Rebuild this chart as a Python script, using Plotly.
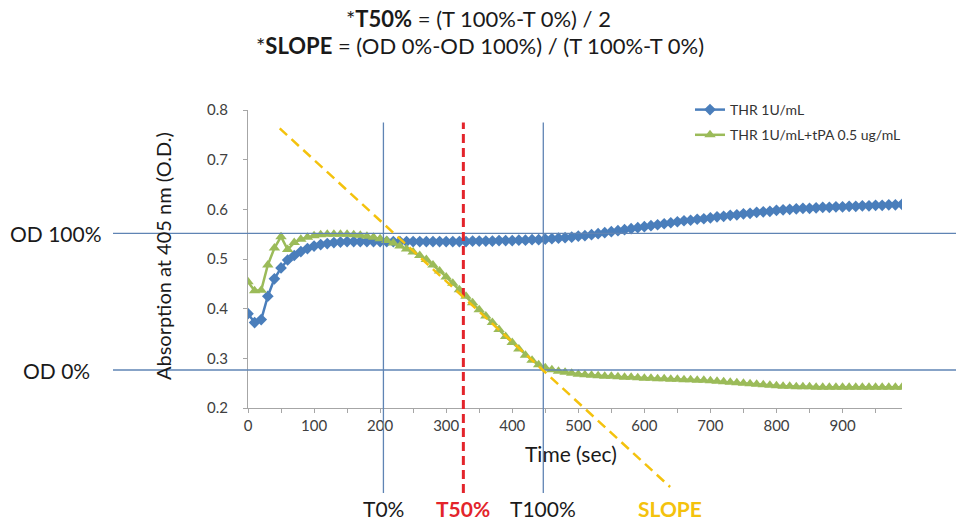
import plotly.graph_objects as go

# Sampling times (s) for the two absorbance traces
time_s = list(range(0, 1000, 10))

thr = [
    0.390, 0.372, 0.378, 0.425, 0.460, 0.482, 0.498, 0.507, 0.515, 0.521,
    0.526, 0.529, 0.531, 0.533, 0.534, 0.535, 0.535, 0.535, 0.535, 0.535,
    0.535, 0.535, 0.535, 0.535, 0.535, 0.535, 0.535, 0.535, 0.535, 0.535,
    0.535, 0.535, 0.535, 0.535, 0.536, 0.536, 0.536, 0.536, 0.537, 0.537,
    0.537, 0.538, 0.538, 0.539, 0.539, 0.540, 0.541, 0.542, 0.543, 0.544,
    0.546, 0.547, 0.549, 0.551, 0.553, 0.555, 0.557, 0.559, 0.561, 0.563,
    0.565, 0.567, 0.569, 0.571, 0.573, 0.575, 0.577, 0.578, 0.580, 0.581,
    0.583, 0.585, 0.586, 0.588, 0.589, 0.591, 0.592, 0.594, 0.595, 0.596,
    0.598, 0.599, 0.600, 0.601, 0.602, 0.602, 0.603, 0.604, 0.604, 0.605,
    0.605, 0.606, 0.606, 0.607, 0.607, 0.608, 0.608, 0.609, 0.609, 0.610,
]

thr_tpa = [
    0.454, 0.436, 0.437, 0.488, 0.522, 0.545, 0.519, 0.533, 0.540, 0.544,
    0.547, 0.549, 0.550, 0.550, 0.550, 0.550, 0.549, 0.548, 0.546, 0.544,
    0.541, 0.537, 0.532, 0.526, 0.520, 0.514, 0.507, 0.499, 0.488, 0.476,
    0.464, 0.451, 0.438, 0.425, 0.412, 0.398, 0.385, 0.372, 0.358, 0.344,
    0.332, 0.319, 0.306, 0.296, 0.287, 0.281, 0.277, 0.274, 0.272, 0.270,
    0.268, 0.267, 0.266, 0.265, 0.264, 0.264, 0.263, 0.262, 0.262, 0.261,
    0.260, 0.260, 0.259, 0.259, 0.258, 0.258, 0.257, 0.257, 0.256, 0.256,
    0.255, 0.254, 0.253, 0.252, 0.251, 0.250, 0.249, 0.248, 0.247, 0.246,
    0.245, 0.244, 0.244, 0.243, 0.243, 0.243, 0.242, 0.242, 0.242, 0.242,
    0.242, 0.242, 0.242, 0.242, 0.242, 0.242, 0.242, 0.242, 0.242, 0.242,
]

series_names = ["THR 1U/mL", "THR 1U/mL+tPA 0.5 ug/mL"]

# Reference markers of the analysis
T0, T100 = 205, 447
T50 = (T0 + T100) / 2
OD100, OD0 = 0.5515, 0.2765
SLOPE_START = (48, 0.763)
SLOPE_END = (639, 0.041)

x_tick_vals = list(range(0, 1000, 100))
y_tick_vals = [0.2, 0.3, 0.4, 0.5, 0.6, 0.7, 0.8]

X_RANGE = [0, 990]
Y_RANGE = [0.2, 0.8]

W, H = 956, 520
M_L, M_R, M_T, M_B = 248, 54, 110, 112
PLOT_W = W - M_L - M_R
PLOT_H = H - M_T - M_B

FONT = "Lato, 'Open Sans', sans-serif"
BLUE = "#4a7ebb"
GREEN = "#9bbb59"
REF_LINE = "#5f84b4"
RED = "#e3242b"
GOLD = "#f4c20d"
INK = "#1a1a1a"


def paper_x(t):
    return (t - X_RANGE[0]) / (X_RANGE[1] - X_RANGE[0])


def paper_y(v):
    return (v - Y_RANGE[0]) / (Y_RANGE[1] - Y_RANGE[0])


def paper_x_px(px):
    return (px - M_L) / PLOT_W


def paper_y_px(py):
    return (H - M_B - py) / PLOT_H


fig = go.Figure()
fig.add_trace(go.Scatter(
    x=time_s, y=thr, name=series_names[0], mode="lines+markers",
    line=dict(color=BLUE, width=2.5),
    marker=dict(symbol="diamond", size=9, color=BLUE),
    legendgroup="a",
))
fig.add_trace(go.Scatter(
    x=time_s, y=thr_tpa, name=series_names[1], mode="lines+markers",
    line=dict(color=GREEN, width=2.5),
    marker=dict(symbol="triangle-up", size=10, color=GREEN),
    legendgroup="b",
))

shapes = []
# Horizontal OD reference lines, running past the plot area
for od in (OD100, OD0):
    shapes.append(dict(type="line", xref="paper", yref="paper",
                       x0=paper_x_px(113), x1=paper_x_px(W),
                       y0=paper_y(od), y1=paper_y(od),
                       line=dict(color=REF_LINE, width=1.3)))
# Vertical time reference lines
line_top = paper_y(0.775)
line_bot = paper_y_px(493)
for t in (T0, T100):
    shapes.append(dict(type="line", xref="paper", yref="paper",
                       x0=paper_x(t), x1=paper_x(t), y0=line_bot, y1=line_top,
                       line=dict(color=REF_LINE, width=1.3)))
shapes.append(dict(type="line", xref="paper", yref="paper",
                   x0=paper_x(T50), x1=paper_x(T50), y0=line_bot, y1=line_top,
                   line=dict(color=RED, width=3, dash="9px,5px")))
# Slope line
shapes.append(dict(type="line", xref="paper", yref="paper",
                   x0=paper_x(SLOPE_START[0]), y0=paper_y(SLOPE_START[1]),
                   x1=paper_x(SLOPE_END[0]), y1=paper_y(SLOPE_END[1]),
                   line=dict(color=GOLD, width=2.5, dash="10px,6px")))


def label(text, x, y, size, color=INK, angle=0):
    return dict(text=text, x=x, y=y, xref="paper", yref="paper",
                xanchor="center", yanchor="middle", showarrow=False,
                textangle=angle, font=dict(family=FONT, size=size, color=color))


annotations = [
    label("*<b>T50%</b> = (T 100%-T 0%) / 2", paper_x_px(478), paper_y_px(18), 22),
    label("*<b>SLOPE</b> = (OD 0%-OD 100%) / (T 100%-T 0%)", paper_x_px(480), paper_y_px(45), 22),
]

label_y = paper_y_px(508)
bottom_labels = [
    ("T0%", T0, INK),
    ("<b>T50%</b>", T50, RED),
    ("T100%", T100, INK),
    ("<b>SLOPE</b>", SLOPE_END[0], GOLD),
]
for txt, t, col in bottom_labels:
    annotations.append(label(txt, paper_x(t), label_y, 21, col))

for txt, od in (("OD 100%", OD100), ("OD 0%", OD0)):
    annotations.append(label(txt, paper_x_px(56), paper_y(od), 21))

annotations.append(label("Absorption at 405 nm (O.D.)", paper_x_px(163), paper_y_px(256), 20, angle=-90))
annotations.append(label("Time (sec)", paper_x_px(571), paper_y_px(453), 21))

fig.update_layout(
    width=W, height=H,
    margin=dict(l=M_L, r=M_R, t=M_T, b=M_B),
    paper_bgcolor="white", plot_bgcolor="white",
    font=dict(family=FONT, color="#404040"),
    shapes=shapes,
    annotations=annotations,
    showlegend=True,
    legend=dict(x=paper_x_px(690), y=paper_y_px(94), xanchor="left", yanchor="top",
                font=dict(family=FONT, size=14, color="#333333"),
                bgcolor="rgba(0,0,0,0)", traceorder="grouped", tracegroupgap=4,
                itemwidth=30),
)
fig.update_xaxes(
    range=X_RANGE, tickvals=x_tick_vals, showgrid=False, zeroline=False,
    showline=True, linecolor="#a6a6a6", linewidth=1,
    ticks="outside", ticklen=4, tickcolor="#a6a6a6",
    minor=dict(ticks="outside", ticklen=4, tickcolor="#a6a6a6", dtick=50, showgrid=False),
    tickfont=dict(family=FONT, size=15, color="#404040"),
)
fig.update_yaxes(
    range=Y_RANGE, tickvals=y_tick_vals, tickformat=".1f", showgrid=False, zeroline=False,
    showline=True, linecolor="#a6a6a6", linewidth=1,
    ticks="outside", ticklen=4, tickcolor="#a6a6a6", ticklabelstandoff=12,
    tickfont=dict(family=FONT, size=15, color="#404040"),
)

fig.write_html("out.html")
